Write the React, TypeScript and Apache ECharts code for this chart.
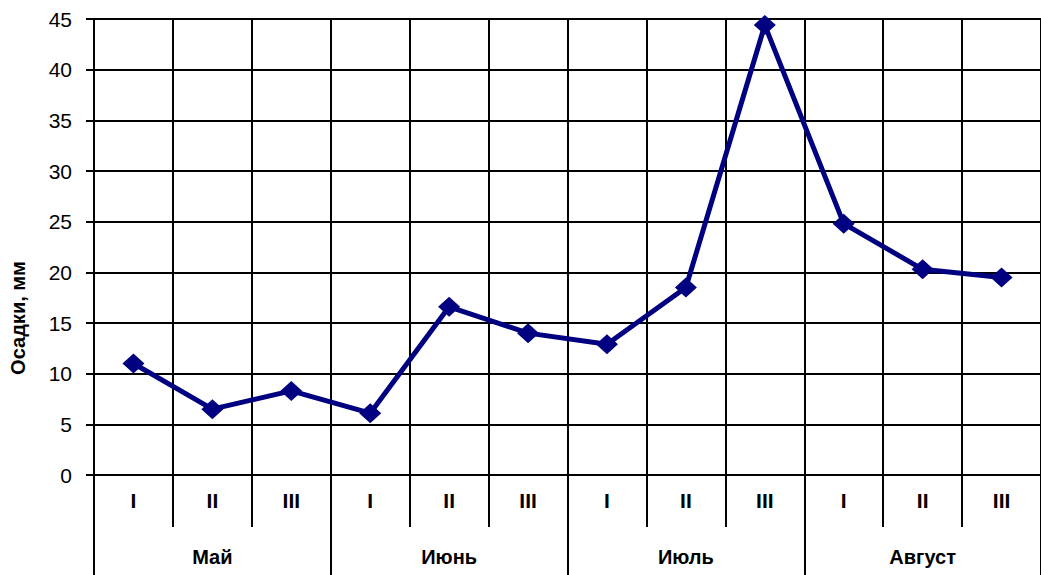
import React, { useEffect, useRef } from "react";
import * as echarts from "echarts";

const decades = ["I", "II", "III", "I", "II", "III", "I", "II", "III", "I", "II", "III"];
const months = ["Май", "Июнь", "Июль", "Август"];
const precipitation = [11.0, 6.5, 8.3, 6.1, 16.6, 14.0, 12.9, 18.5, 44.4, 24.8, 20.3, 19.5];
const yTicks = { min: 0, max: 45, interval: 5 };
const yName = "Осадки, мм";

export default function App() {
  const ref = useRef<HTMLDivElement>(null);
  useEffect(() => {
    if (!ref.current) return;
    const chart = echarts.init(ref.current, null, { renderer: "svg" });
    const font = "'Liberation Sans', Arial, sans-serif";
    chart.setOption({
      animation: false,
      backgroundColor: "#ffffff",
      grid: { left: 94, top: 19, width: 952, height: 456, containLabel: false },
      xAxis: [
        {
          type: "category",
          data: decades,
          position: "bottom",
          boundaryGap: true,
          axisLine: { show: true, lineStyle: { color: "#000", width: 2 } },
          axisTick: { show: true, length: 52, lineStyle: { color: "#000", width: 2 } },
          axisLabel: { margin: 15, color: "#000", fontSize: 21, fontWeight: "bold", fontFamily: font },
          splitLine: { show: true, lineStyle: { color: "#000", width: 2 } },
        },
        {
          type: "category",
          data: months,
          position: "bottom",
          boundaryGap: true,
          axisLine: { show: false },
          axisTick: { show: true, length: 102, lineStyle: { color: "#000", width: 2 } },
          axisLabel: { margin: 72, color: "#000", fontSize: 20, fontWeight: "bold", fontFamily: font },
          splitLine: { show: false },
        },
      ],
      yAxis: {
        type: "value",
        min: yTicks.min,
        max: yTicks.max,
        interval: yTicks.interval,
        axisLine: { show: true, lineStyle: { color: "#000", width: 2 } },
        axisTick: { show: true, length: 8, lineStyle: { color: "#000", width: 2 } },
        axisLabel: { margin: 22, color: "#000", fontSize: 21, fontFamily: font },
        splitLine: { show: true, lineStyle: { color: "#000", width: 2 } },
      },
      graphic: [
        {
          type: "text",
          x: 18,
          y: 318,
          rotation: Math.PI / 2,
          style: {
            text: yName,
            fill: "#000",
            font: `bold 20px ${font}`,
            align: "center",
            verticalAlign: "middle",
          },
        },
      ],
      series: [
        {
          type: "line",
          data: precipitation,
          xAxisIndex: 0,
          symbol: "diamond",
          symbolSize: [22, 20],
          itemStyle: { color: "#000080" },
          lineStyle: { color: "#000080", width: 5 },
          z: 5,
        },
      ],
    });
    return () => chart.dispose();
  }, []);
  return (
    <div
      ref={ref}
      style={{ position: "fixed", left: 0, top: 0, width: 1041, height: 575 }}
    />
  );
}
